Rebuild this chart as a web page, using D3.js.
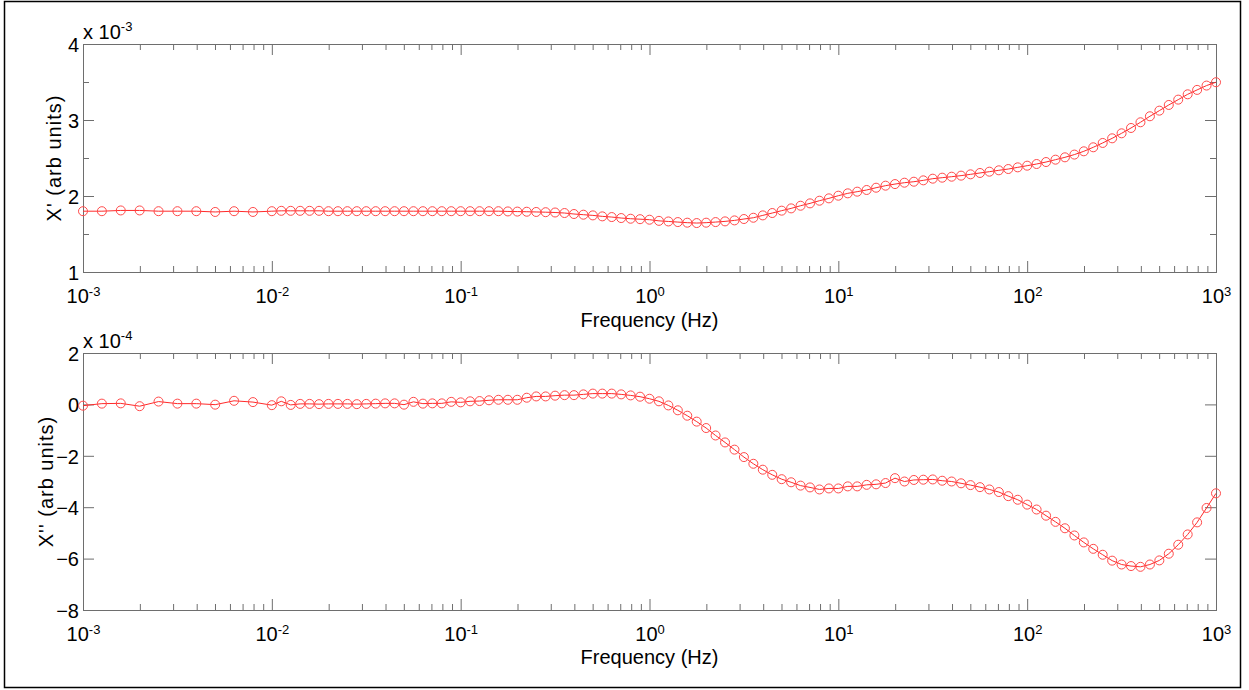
<!DOCTYPE html>
<html>
<head>
<meta charset="utf-8">
<script src="https://cdn.jsdelivr.net/npm/d3@7/dist/d3.min.js"></script>
<style>
  html, body { margin: 0; padding: 0; background: #fff; }
  svg { display: block; }
</style>
</head>
<body>
<svg id="chart" width="1249" height="690"></svg>
<script>
// Sample frequencies as log10(Hz): 10 points in the first decade, then 20 per decade.
const logFreq = [
  -3, -2.9, -2.8, -2.7, -2.6, -2.5, -2.4, -2.3, -2.2, -2.1,
  -2, -1.95, -1.9, -1.85, -1.8, -1.75, -1.7, -1.65, -1.6, -1.55,
  -1.5, -1.45, -1.4, -1.35, -1.3, -1.25, -1.2, -1.15, -1.1, -1.05,
  -1, -0.95, -0.9, -0.85, -0.8, -0.75, -0.7, -0.65, -0.6, -0.55,
  -0.5, -0.45, -0.4, -0.35, -0.3, -0.25, -0.2, -0.15, -0.1, -0.05,
  0, 0.05, 0.1, 0.15, 0.2, 0.25, 0.3, 0.35, 0.4, 0.45,
  0.5, 0.55, 0.6, 0.65, 0.7, 0.75, 0.8, 0.85, 0.9, 0.95,
  1, 1.05, 1.1, 1.15, 1.2, 1.25, 1.3, 1.35, 1.4, 1.45,
  1.5, 1.55, 1.6, 1.65, 1.7, 1.75, 1.8, 1.85, 1.9, 1.95,
  2, 2.05, 2.1, 2.15, 2.2, 2.25, 2.3, 2.35, 2.4, 2.45,
  2.5, 2.55, 2.6, 2.65, 2.7, 2.75, 2.8, 2.85, 2.9, 2.95,
  3
];

// In-phase susceptibility X' in units of 1e-3
const chiReal = [
  1.80, 1.80, 1.81, 1.81, 1.80, 1.80, 1.80, 1.79, 1.80, 1.79,
  1.80, 1.805, 1.805, 1.805, 1.805, 1.805, 1.80, 1.80, 1.80, 1.80,
  1.80, 1.80, 1.80, 1.80, 1.80, 1.80, 1.80, 1.80, 1.80, 1.80,
  1.80, 1.80, 1.80, 1.80, 1.80, 1.797, 1.795, 1.793, 1.79, 1.787,
  1.783, 1.776, 1.763, 1.754, 1.745, 1.732, 1.723, 1.710, 1.701, 1.695,
  1.688, 1.673, 1.665, 1.657, 1.649, 1.644, 1.649, 1.657, 1.666, 1.679,
  1.697, 1.714, 1.745, 1.776, 1.807, 1.837, 1.872, 1.903, 1.938, 1.969,
  2.004, 2.035, 2.057, 2.079, 2.109, 2.136, 2.157, 2.175, 2.188, 2.206,
  2.228, 2.241, 2.254, 2.268, 2.285, 2.303, 2.320, 2.338, 2.355, 2.377,
  2.399, 2.421, 2.447, 2.478, 2.509, 2.545, 2.588, 2.641, 2.698, 2.759,
  2.825, 2.895, 2.970, 3.049, 3.123, 3.198, 3.268, 3.338, 3.396, 3.453,
  3.497
];

// Out-of-phase susceptibility X'' in units of 1e-4
const chiImag = [
  -0.05, 0.03, 0.04, -0.07, 0.11, 0.03, 0.03, -0.01, 0.14, 0.09,
  -0.03, 0.12, -0.02, 0.02, 0.02, 0.01, 0.02, 0.02, 0.02, 0.01,
  0.02, 0.03, 0.04, 0.04, -0.01, 0.10, 0.03, 0.04, 0.04, 0.10,
  0.08, 0.12, 0.13, 0.16, 0.18, 0.18, 0.18, 0.26, 0.31, 0.31,
  0.34, 0.36, 0.36, 0.39, 0.42, 0.42, 0.42, 0.39, 0.35, 0.30,
  0.22, 0.12, -0.04, -0.23, -0.44, -0.67, -0.92, -1.21, -1.48, -1.76,
  -2.05, -2.31, -2.54, -2.74, -2.91, -3.03, -3.16, -3.23, -3.31, -3.27,
  -3.27, -3.19, -3.19, -3.13, -3.11, -3.06, -2.87, -3.00, -2.94, -2.93,
  -2.92, -2.97, -3.00, -3.07, -3.14, -3.22, -3.31, -3.41, -3.57, -3.71,
  -3.90, -4.09, -4.33, -4.57, -4.82, -5.10, -5.37, -5.62, -5.85, -6.08,
  -6.23, -6.29, -6.32, -6.23, -6.07, -5.81, -5.46, -5.06, -4.59, -4.03,
  -3.46
];

// Axis ticks
const decadeExps = [-3, -2, -1, 0, 1, 2, 3];
const realMajorTicks = [1, 2, 3, 4];
const realMinorTicks = [1.5, 2.5, 3.5];
const imagMajorTicks = [-8, -6, -4, -2, 0, 2];
const imagMinorTicks = [];

const FONT = "'Liberation Sans', Arial, Helvetica, sans-serif";
const AXIS_GREY = "#6e6e6e";
const RED = "#ff2a2a";

const svg = d3.select("#chart");

// outer frame
svg.append("rect")
  .attr("x", 4.5).attr("y", 1.5)
  .attr("width", 1236).attr("height", 686)
  .attr("fill", "none").attr("stroke", "#000").attr("stroke-width", 1.5);

const x = d3.scaleLog().domain([1e-3, 1e3]).range([83, 1216]);

const minorFreqs = [];
for (let d = -3; d < 3; d++) for (let m = 2; m <= 9; m++) minorFreqs.push(m * Math.pow(10, d));

const panels = [
  { top: 44, bottom: 272, domain: [1, 4], values: chiReal, major: realMajorTicks, minor: realMinorTicks,
    exp: "-3", ylabel: "X' (arb units)", ylabelX: 61, xlabelY: 327 },
  { top: 353, bottom: 610, domain: [-8, 2], values: chiImag, major: imagMajorTicks, minor: imagMinorTicks,
    exp: "-4", ylabel: "X'' (arb units)", ylabelX: 53, xlabelY: 664 }
];

function styleAxis(g) {
  g.attr("font-family", FONT).attr("font-size", 20);
  g.select(".domain").remove();
  g.selectAll(".tick line").attr("stroke", AXIS_GREY).attr("stroke-width", 1);
  g.selectAll(".tick text").attr("fill", "#000");
}

panels.forEach(p => {
  const y = d3.scaleLinear().domain(p.domain).range([p.bottom, p.top]);
  const g = svg.append("g");

  // bottom x axis: major ticks with 10^n labels
  g.append("g").attr("transform", `translate(0,${p.bottom})`)
    .call(d3.axisBottom(x).tickValues(decadeExps.map(e => Math.pow(10, e)))
      .tickSize(-11).tickPadding(17).tickFormat(() => ""))
    .call(styleAxis)
    .call(ax => ax.selectAll(".tick text").each(function(d) {
      const t = d3.select(this);
      t.text("10");
      t.append("tspan").attr("dy", "-0.55em").attr("font-size", 13)
        .text(String(Math.round(Math.log10(d))));
    }));
  // bottom minor ticks
  g.append("g").attr("transform", `translate(0,${p.bottom})`)
    .call(d3.axisBottom(x).tickValues(minorFreqs).tickSize(-6).tickFormat(() => ""))
    .call(styleAxis);
  // top mirrored ticks
  g.append("g").attr("transform", `translate(0,${p.top})`)
    .call(d3.axisTop(x).tickValues(decadeExps.map(e => Math.pow(10, e))).tickSize(-11).tickFormat(() => ""))
    .call(styleAxis);
  g.append("g").attr("transform", `translate(0,${p.top})`)
    .call(d3.axisTop(x).tickValues(minorFreqs).tickSize(-6).tickFormat(() => ""))
    .call(styleAxis);

  // left y axis
  g.append("g").attr("transform", `translate(${x.range()[0]},0)`)
    .call(d3.axisLeft(y).tickValues(p.major).tickSize(-11).tickPadding(4).tickFormat(d3.format("d")))
    .call(styleAxis)
    .call(ax => ax.selectAll(".tick text").attr("dy", "0.36em"));
  g.append("g").attr("transform", `translate(${x.range()[0]},0)`)
    .call(d3.axisLeft(y).tickValues(p.minor).tickSize(-6).tickFormat(() => ""))
    .call(styleAxis);
  // right mirrored ticks
  g.append("g").attr("transform", `translate(${x.range()[1]},0)`)
    .call(d3.axisRight(y).tickValues(p.major).tickSize(-11).tickFormat(() => ""))
    .call(styleAxis);
  g.append("g").attr("transform", `translate(${x.range()[1]},0)`)
    .call(d3.axisRight(y).tickValues(p.minor).tickSize(-6).tickFormat(() => ""))
    .call(styleAxis);

  // plot box
  g.append("rect")
    .attr("x", x.range()[0] + 0.5).attr("y", p.top + 0.5)
    .attr("width", x.range()[1] - x.range()[0]).attr("height", p.bottom - p.top)
    .attr("fill", "none").attr("stroke", AXIS_GREY).attr("stroke-width", 1);

  // exponent multiplier
  const mult = g.append("text")
    .attr("x", x.range()[0]).attr("y", p.top - 5)
    .attr("font-family", FONT).attr("font-size", 20).attr("fill", "#000")
    .text("x 10");
  mult.append("tspan").attr("dy", "-0.6em").attr("font-size", 13).text(p.exp);

  // axis titles
  g.append("text")
    .attr("transform", `translate(${p.ylabelX},${(p.top + p.bottom) / 2}) rotate(-90)`)
    .attr("text-anchor", "middle")
    .attr("font-family", FONT).attr("font-size", 20).attr("letter-spacing", 1)
    .attr("fill", "#000")
    .text(p.ylabel);
  g.append("text")
    .attr("x", (x.range()[0] + x.range()[1]) / 2).attr("y", p.xlabelY)
    .attr("text-anchor", "middle")
    .attr("font-family", FONT).attr("font-size", 20).attr("fill", "#000")
    .text("Frequency (Hz)");

  // data: line + open circle markers
  const pts = logFreq.map((e, i) => ({ f: Math.pow(10, e), v: p.values[i] }));
  const line = d3.line().x(d => x(d.f)).y(d => y(d.v));
  g.append("path").datum(pts)
    .attr("d", line).attr("fill", "none")
    .attr("stroke", RED).attr("stroke-width", 1);
  g.append("g").selectAll("circle").data(pts).join("circle")
    .attr("cx", d => x(d.f)).attr("cy", d => y(d.v)).attr("r", 4.5)
    .attr("fill", "none").attr("stroke", "#ff4a4a").attr("stroke-width", 1);
});
</script>
</body>
</html>
